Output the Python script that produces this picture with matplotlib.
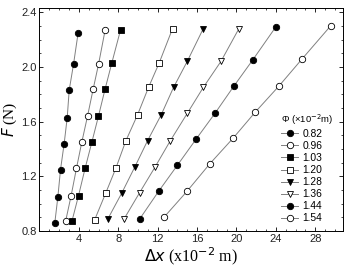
import matplotlib
matplotlib.use("Agg")
import matplotlib.pyplot as plt

phi_labels = ["0.82", "0.96", "1.03", "1.20", "1.28", "1.36", "1.44", "1.54"]

dx_082 = [1.56, 1.87, 2.14, 2.51, 2.82, 3.02, 3.46, 3.93]
F_082 = [0.86, 1.05, 1.25, 1.44, 1.63, 1.83, 2.02, 2.25]
dx_096 = [2.65, 3.22, 3.76, 4.30, 4.88, 5.46, 6.00, 6.67]
F_096 = [0.87, 1.06, 1.26, 1.45, 1.64, 1.84, 2.02, 2.27]
dx_103 = [3.29, 3.97, 4.64, 5.32, 5.99, 6.67, 7.35, 8.23]
F_103 = [0.87, 1.06, 1.26, 1.45, 1.64, 1.84, 2.03, 2.27]
dx_120 = [5.59, 6.74, 7.76, 8.77, 9.96, 11.07, 12.16, 13.51]
F_120 = [0.88, 1.08, 1.26, 1.46, 1.65, 1.85, 2.03, 2.28]
dx_128 = [6.95, 8.37, 9.69, 10.97, 12.36, 13.61, 15.00, 16.63]
F_128 = [0.89, 1.08, 1.27, 1.46, 1.65, 1.85, 2.04, 2.28]
dx_136 = [8.60, 10.16, 11.75, 13.28, 15.00, 16.63, 18.42, 20.25]
F_136 = [0.89, 1.08, 1.27, 1.46, 1.66, 1.85, 2.04, 2.28]
dx_144 = [10.19, 12.09, 13.99, 15.88, 17.81, 19.74, 21.64, 23.97]
F_144 = [0.89, 1.09, 1.28, 1.47, 1.66, 1.86, 2.05, 2.29]
dx_154 = [12.63, 14.97, 17.27, 19.67, 21.91, 24.31, 26.68, 29.56]
F_154 = [0.90, 1.09, 1.29, 1.48, 1.67, 1.86, 2.06, 2.30]

series_x = [dx_082, dx_096, dx_103, dx_120, dx_128, dx_136, dx_144, dx_154]
series_y = [F_082, F_096, F_103, F_120, F_128, F_136, F_144, F_154]
markers = ["o", "o", "s", "s", "v", "v", "o", "o"]
filled = [True, False, True, False, True, False, True, False]

plt.rcParams['font.family'] = ['Liberation Sans', 'DejaVu Sans']

fig = plt.figure(figsize=(3.46, 2.69), dpi=100)
ax = fig.add_axes([0.114, 0.141, 0.877, 0.829])

for xs, ys, m, f, lab in zip(series_x, series_y, markers, filled, phi_labels):
    ax.plot(xs, ys, color="#808080", lw=0.7, marker=m,
            markersize=4.6 if m != "s" else 4.0,
            markerfacecolor="black" if f else "white",
            markeredgecolor="black", markeredgewidth=0.6, label=lab, zorder=3)

ax.set_xlim(0, 30.8)
ax.set_ylim(0.8, 2.43)
ax.set_xticks([4, 8, 12, 16, 20, 24, 28])
ax.set_yticks([0.8, 1.2, 1.6, 2.0, 2.4])
ax.set_yticklabels(["0.8", "1.2", "1.6", "2.0", "2.4"])
ax.set_xticks(range(1, 31), minor=True)
ax.set_yticks([0.8 + 0.1 * i for i in range(17)], minor=True)
ax.tick_params(which="both", direction="in", top=True, right=True, labelsize=8, pad=2,
               labelcolor="#222222")
ax.tick_params(which="major", length=3, width=0.6)
ax.tick_params(which="minor", length=1.6, width=0.5)
for s in ax.spines.values():
    s.set_linewidth(0.7)

ax.set_xlabel(r"$\Delta$$\it{x}$ (x10$^{-2}$ m)", fontsize=11.5, family="Liberation Serif",
              labelpad=1)
ax.set_ylabel(r"$\it{F}$ (N)", fontsize=11, family="Liberation Serif")
ax.yaxis.set_label_coords(-0.066, 0.5)

leg = ax.legend(loc="lower right", bbox_to_anchor=(0.995, 0.0), frameon=False,
                fontsize=7.4, title="Φ (×10$^{-2}$m)", title_fontsize=6.8,
                handlelength=1.6, handletextpad=0.45, labelspacing=0.2,
                borderpad=0.25)
leg._legend_box.align = "left"

fig.savefig("out.png", dpi=100)
